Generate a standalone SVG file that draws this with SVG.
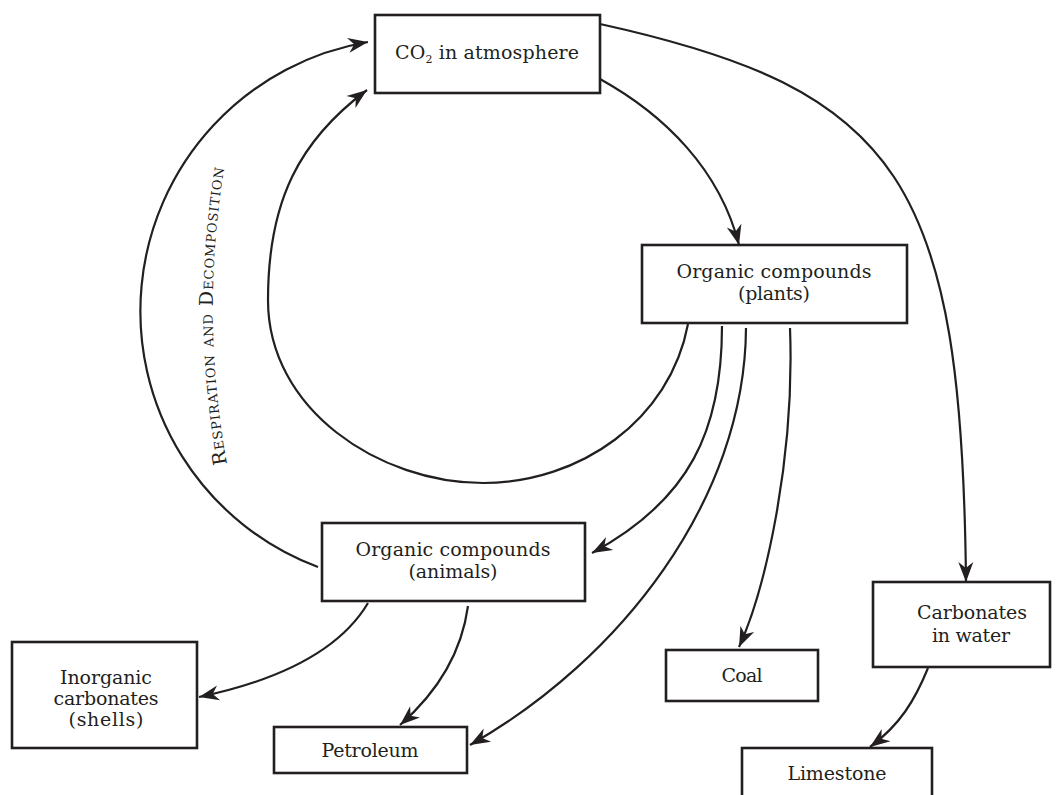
<svg xmlns="http://www.w3.org/2000/svg" width="1057" height="795" viewBox="0 0 1057 795">
<defs>
<marker id="arr" viewBox="-21 -8 22 16" refX="0" refY="0" markerWidth="22" markerHeight="16" markerUnits="userSpaceOnUse" orient="auto">
<path d="M0,0 L-20,-7.5 L-14,0 L-20,7.5 Z" fill="#231f20"/>
</marker>
<style>
.box{fill:#fff;stroke:#231f20;stroke-width:2.6}
.lbl{font-family:"DejaVu Serif","Liberation Serif",serif;font-size:19px;fill:#231f20;text-anchor:middle}
.con{fill:none;stroke:#231f20;stroke-width:2.2}
.cap{font-family:"DejaVu Serif","Liberation Serif",serif;font-size:19px;font-variant:small-caps;letter-spacing:0.9px;fill:#231f20}
</style>
</defs>
<rect width="1057" height="795" fill="#fff"/>
<g id="connectors">
<path class="con" d="M600,79 C665,115 720,170 739,245" marker-end="url(#arr)"/>
<path class="con" d="M600,24 C900,90 962,180 966,582" marker-end="url(#arr)"/>
<path class="con" d="M318,567 A273,273 0 0 1 368,42" marker-end="url(#arr)"/>
<path class="con" d="M688,324 C670,420 580,483 483,483 C380,483 268,410 268,300 C268,200 300,140 367,90" marker-end="url(#arr)"/>
<path class="con" d="M722,326 C722,430 690,500 592,553" marker-end="url(#arr)"/>
<path class="con" d="M746,328 C745,500 620,660 470,745" marker-end="url(#arr)"/>
<path class="con" d="M790,328 C795,460 765,590 739,647" marker-end="url(#arr)"/>
<path class="con" d="M368,603 C340,650 280,680 199,697" marker-end="url(#arr)"/>
<path class="con" d="M468,606 C462,650 440,690 400,725" marker-end="url(#arr)"/>
<path class="con" d="M928,668 C915,700 900,725 870,747" marker-end="url(#arr)"/>
</g>
<g id="label-respiration">
<path id="respPath" d="M227,464 Q199,312 226,158" fill="none" stroke="none"/>
<text class="cap"><textPath href="#respPath">Respiration and Decomposition</textPath></text>
</g>
<g id="co2">
<rect class="box" x="375" y="15" width="225" height="78"/>
<text class="lbl" x="487" y="59" textLength="184" lengthAdjust="spacing">CO<tspan font-size="11" dy="4">2</tspan><tspan dy="-4"> in atmosphere</tspan></text>
</g>
<g id="plants">
<rect class="box" x="642" y="245" width="265" height="78"/>
<text class="lbl" x="774" y="278" textLength="195" lengthAdjust="spacing">Organic compounds</text>
<text class="lbl" x="774" y="300" textLength="72" lengthAdjust="spacing">(plants)</text>
</g>
<g id="animals">
<rect class="box" x="322" y="523" width="263" height="78"/>
<text class="lbl" x="453" y="556" textLength="195" lengthAdjust="spacing">Organic compounds</text>
<text class="lbl" x="453" y="578" textLength="89" lengthAdjust="spacing">(animals)</text>
</g>
<g id="inorganic">
<rect class="box" x="12" y="642" width="185" height="106"/>
<text class="lbl" x="106" y="684" textLength="92" lengthAdjust="spacing">Inorganic</text>
<text class="lbl" x="106" y="705" textLength="105" lengthAdjust="spacing">carbonates</text>
<text class="lbl" x="106" y="726" textLength="75" lengthAdjust="spacing">(shells)</text>
</g>
<g id="petroleum">
<rect class="box" x="274" y="727" width="193" height="46"/>
<text class="lbl" x="370" y="757" textLength="97" lengthAdjust="spacing">Petroleum</text>
</g>
<g id="coal">
<rect class="box" x="666" y="650" width="152" height="51"/>
<text class="lbl" x="742" y="682" textLength="41" lengthAdjust="spacing">Coal</text>
</g>
<g id="carbonates">
<rect class="box" x="873" y="582" width="177" height="85"/>
<text class="lbl" x="972" y="619" textLength="110" lengthAdjust="spacing">Carbonates</text>
<text class="lbl" x="971" y="642" textLength="78" lengthAdjust="spacing">in water</text>
</g>
<g id="limestone">
<rect class="box" x="742" y="748" width="190" height="60"/>
<text class="lbl" x="837" y="780" textLength="99" lengthAdjust="spacing">Limestone</text>
</g>
</svg>
